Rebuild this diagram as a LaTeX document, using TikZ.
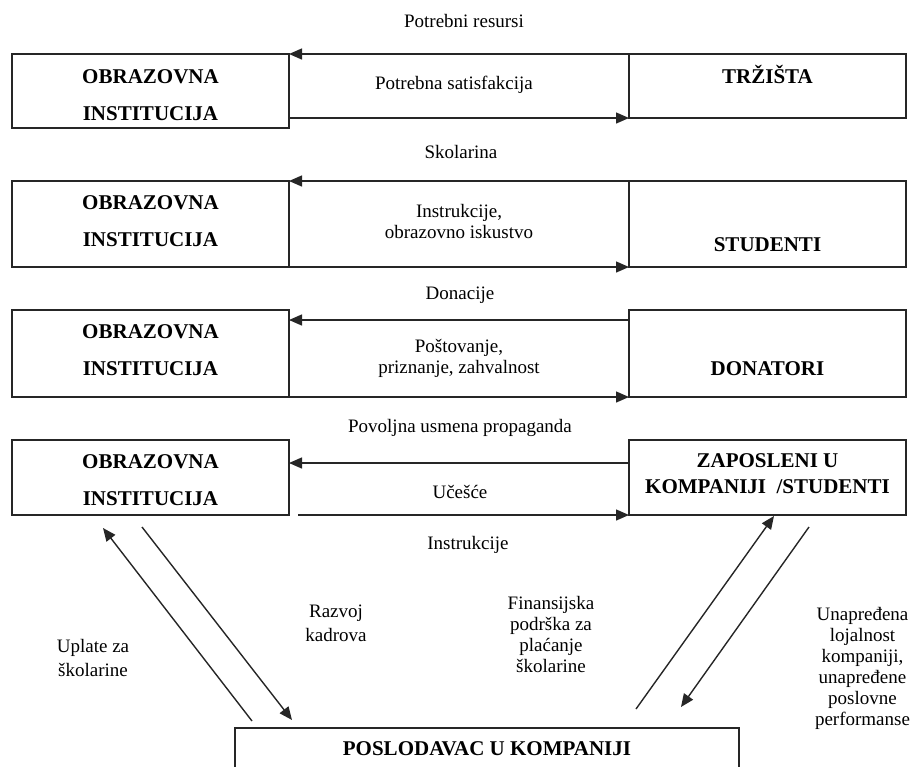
\documentclass[tikz,border=0pt]{standalone}
\usepackage{fontspec}
\setmainfont{Liberation Serif}
\usetikzlibrary{arrows.meta,calc,positioning,fit}
\definecolor{ink}{HTML}{262626}

\begin{document}
\begin{tikzpicture}[x=0.5pt,y=-0.5pt,>={Triangle[length=6.5pt,width=5.5pt]},
 box/.style={draw=ink,line width=.8pt,inner sep=0pt,outer sep=0pt},
 head/.style={anchor=base,align=center,inner sep=0pt,font=\fontsize{10.5}{18.5}\selectfont\bfseries},
 txt/.style={anchor=base,align=center,inner sep=0pt,font=\fontsize{9.5}{10.5}\selectfont},
 flow/.style={->,ink,line width=.7pt}]
 \useasboundingbox (0,0) rectangle (912,767);
 \clip (0,0) rectangle (912,767);
 % base of a multi-line node = baseline of its last line
 \foreach \n/\yt/\yb/\ya in {1/54/128/120,2/181/267/246,3/310/397/375,4/440/515/505}{
   \node[box,fit={(12,\yt) (289,\yb)}] (inst\n) {};
   \node[head] (instT\n) at (150.5,\ya) {OBRAZOVNA\\INSTITUCIJA};
 }
 \node[box,fit={(629,54) (906,118)}] (trziste) {};
 \node[box,fit={(629,181) (906,267)}] (studenti) {};
 \node[box,fit={(629,310) (906,397)}] (donatori) {};
 \node[box,fit={(629,440) (906,515)}] (zaposleni) {};
 \node[box,fit={(235,728) (739,800)}] (poslodavac) {};
 \node[head] (trzisteT) at (767.5,83) {TRŽIŠTA};
 \node[head] (studentiT) at (767.5,251) {STUDENTI};
 \node[head] (donatoriT) at (767.5,375) {DONATORI};
 \node[head,font=\fontsize{10.5}{12.75}\selectfont\bfseries] (zaposleniT) at (767.5,493)
  {ZAPOSLENI U\\KOMPANIJI \ /STUDENTI};
 \node[head] (poslodavacT) at (487,755) {POSLODAVAC U KOMPANIJI};

 \draw[flow] (trziste.north west) -- (inst1.north east);
 \draw[flow] (inst1.east |- trziste.south) -- (trziste.south west);
 \draw[flow] (studenti.north west) -- (inst2.north east);
 \draw[flow] (inst2.south east) -- (studenti.south west);
 \draw[flow] ($(donatori.north west)+(0,10)$) -- ($(inst3.north east)+(0,10)$);
 \draw[flow] (inst3.south east) -- (donatori.south west);
 \draw[flow] ($(zaposleni.north west)+(0,23)$) -- ($(inst4.north east)+(0,23)$);
 \draw[flow] ($(inst4.south east)+(9,0)$) -- (zaposleni.south west);
 \draw[flow] ($(poslodavac.north west)+(17,-7)$) -- ($(inst4.south west)+(91,13)$);
 \draw[flow] ($(inst4.south west)+(130,12)$) -- ($(poslodavac.north west)+(57,-8)$);
 \draw[flow] ($(poslodavac.north east)+(-103,-19)$) -- ($(zaposleni.south west)+(145,1)$);
 \draw[flow] ($(zaposleni.south west)+(180,12)$) -- ($(poslodavac.north east)+(-58,-21)$);

 \node[txt] (resursi) at (464,27) {Potrebni resursi};
 \node[txt] (satisfakcija) at (454,89) {Potrebna satisfakcija};
 \node[txt] (skolarina) at (461,158) {Skolarina};
 \node[txt] (iskustvo) at (459,238) {Instrukcije,\\obrazovno iskustvo};
 \node[txt] (donacije) at (460,299) {Donacije};
 \node[txt] (zahvalnost) at (459,373) {Poštovanje,\\priznanje, zahvalnost};
 \node[txt] (propaganda) at (460,432) {Povoljna usmena propaganda};
 \node[txt] (ucesce) at (460,498) {Učešće};
 \node[txt] (instrukcije) at (468,549) {Instrukcije};
 \node[txt,font=\fontsize{9.5}{11.75}\selectfont] (uplate) at (93,676) {Uplate za\\školarine};
 \node[txt,font=\fontsize{9.5}{11.75}\selectfont] (razvoj) at (336,641) {Razvoj\\kadrova};
 \node[txt] (podrska) at (551,672) {Finansijska\\podrška za\\plaćanje\\školarine};
 \node[txt] (lojalnost) at (862.5,725)
  {Unapređena\\lojalnost\\kompaniji,\\unapređene\\poslovne\\performanse};
\end{tikzpicture}
\end{document}
